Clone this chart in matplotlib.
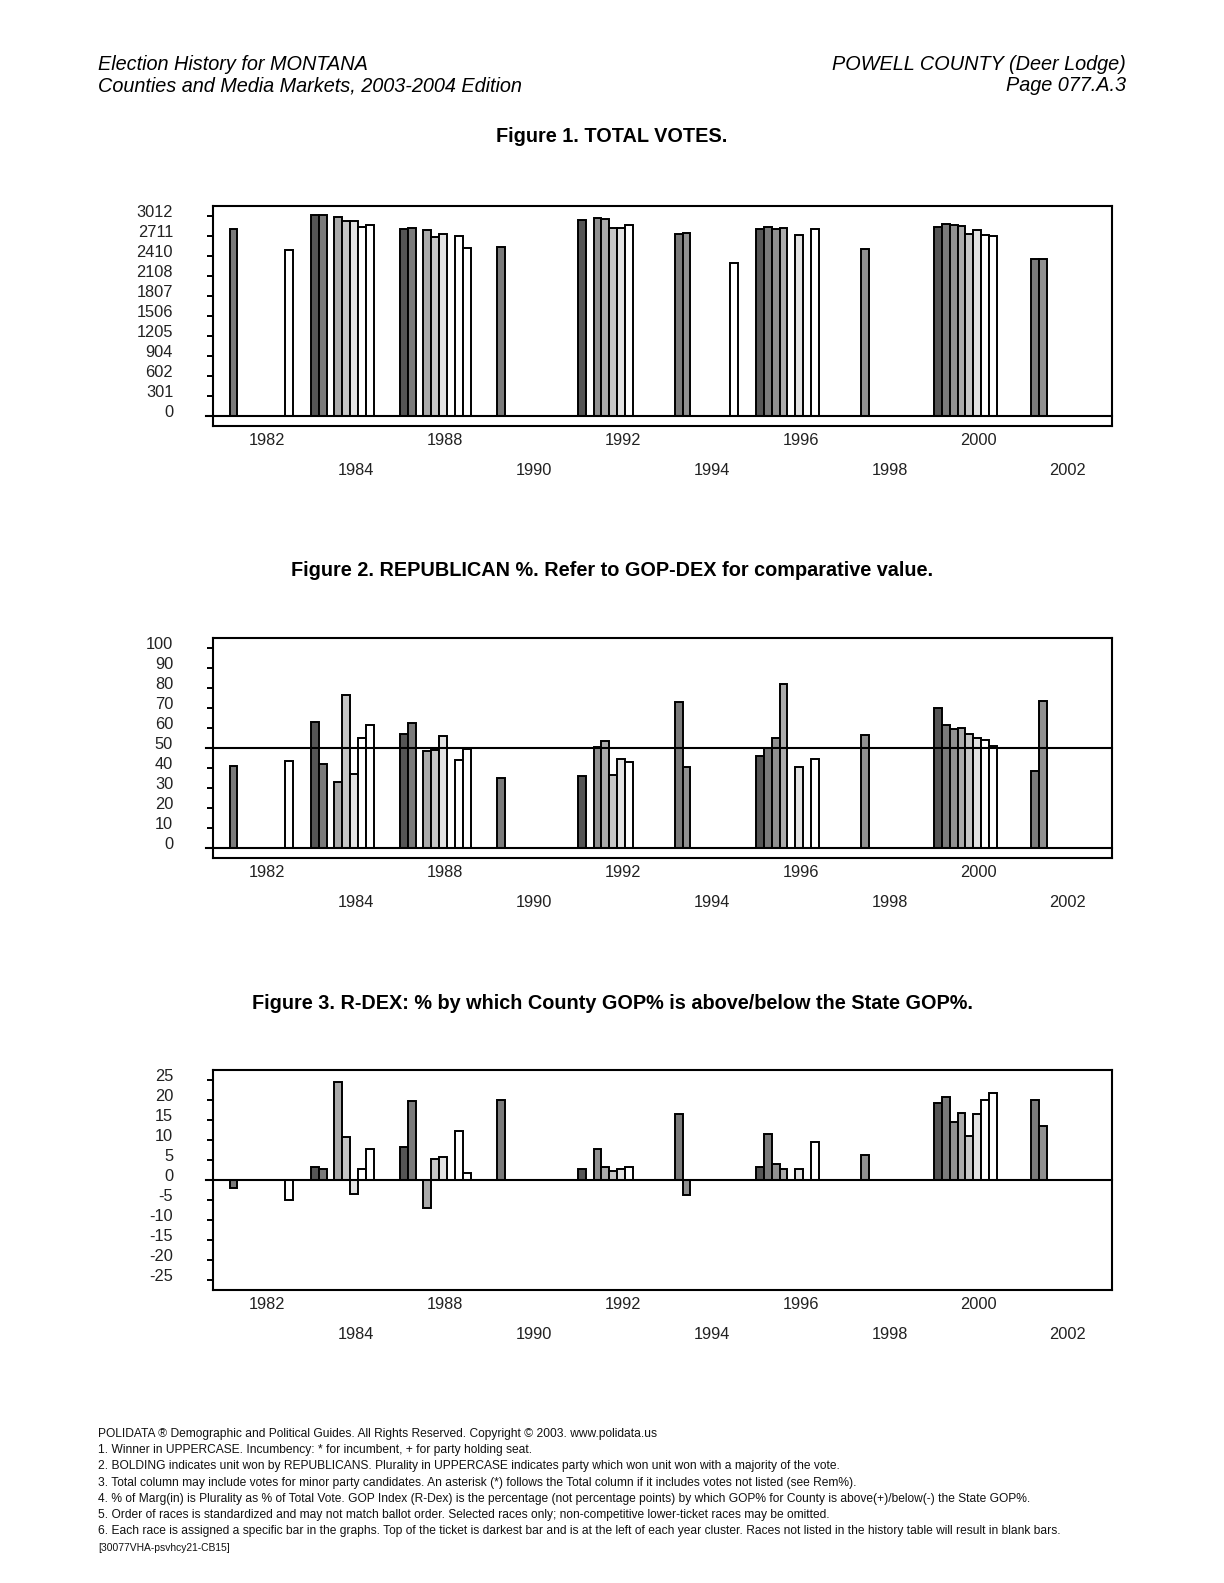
import matplotlib
matplotlib.use("Agg")
import matplotlib.pyplot as plt
from matplotlib import transforms

plt.rcParams['font.family'] = ['Liberation Sans', 'DejaVu Sans']

# election years on the category axis (1986 is not in the source)
years = ['1982', '1984', '1988', '1990', '1992', '1994', '1996', '1998', '2000', '2002']

# one row per race slot (top of ticket first), one column per year, None = no race
total_votes = [
    [None, 3017, 2811, None, 2947, None, 2811, None, 2842, None],
    [2811, 3017, 2820, 2540, None, 2736, 2842, None, 2881, 2353],
    [None, None, None, None, 2977, 2745, 2811, 2510, 2866, 2353],
    [None, 2986, 2790, None, 2962, None, 2820, None, 2851, None],
    [None, 2926, 2685, None, 2831, None, None, None, 2740, None],
    [None, 2926, 2730, None, 2831, None, 2721, None, 2790, None],
    [None, 2836, None, None, 2866, None, None, None, 2715, None],
    [None, 2866, 2700, None, None, None, 2811, None, 2700, None],
    [2489, None, 2525, None, None, 2299, None, None, None, None],
]

gop_pct = [
    [None, 62.7, 56.7, None, 36.1, None, 45.7, None, 69.7, None],
    [41.1, 42.1, 62.2, 35.1, None, 72.7, 49.7, None, 61.4, 38.3],
    [None, None, None, None, 50.5, 40.6, 54.7, 56.4, 59.2, 73.4],
    [None, 33.1, 48.2, None, 53.2, None, 81.8, None, 59.7, None],
    [None, 76.3, 48.7, None, 36.5, None, None, None, 56.7, None],
    [None, 37.1, 55.7, None, 44.6, None, 40.6, None, 54.7, None],
    [None, 54.7, None, None, 42.8, None, None, None, 53.7, None],
    [None, 61.2, 44.1, None, None, None, 44.6, None, 50.7, None],
    [43.6, None, 49.5, None, None, None, None, None, None, None],
]

r_dex = [
    [None, 3.1, 8.1, None, 2.7, None, 3.2, None, 19.2, None],
    [-2.0, 2.7, 19.7, 19.9, None, 16.4, 11.4, None, 20.7, 20.0],
    [None, None, None, None, 7.6, -3.8, 3.9, 6.2, 14.4, 13.5],
    [None, 24.4, -7.0, None, 3.3, None, 2.8, None, 16.6, None],
    [None, 10.6, 5.1, None, 2.1, None, None, None, 11.0, None],
    [None, -3.5, 5.7, None, 2.8, None, 2.6, None, 16.5, None],
    [None, 2.8, None, None, 3.3, None, None, None, 20.0, None],
    [None, 7.6, 12.1, None, None, None, 9.4, None, 21.7, None],
    [-5.0, None, 1.7, None, None, None, None, None, None, None],
]

race_colors = ['#555555', '#7a7a7a', '#909090', '#aaaaaa', '#c6c6c6',
               '#e2e2e2', '#ffffff', '#ffffff', '#ffffff']

votes_ticks = [0, 301.2, 602.4, 903.6, 1204.8, 1506, 1807.2, 2108.4, 2409.6, 2710.8, 3012]
votes_labels = ['0', '301', '602', '904', '1205', '1506', '1807', '2108', '2410', '2711', '3012']
pct_ticks = list(range(0, 101, 10))
dex_ticks = list(range(-25, 26, 5))

W, H = 1224, 1583
fig = plt.figure(figsize=(W / 100, H / 100), dpi=100)

bar_w = 0.0888
ax_left, ax_width = 212.7 / W, 899.6 / W
tick_fs = 11.8


def panel(top_px, data, ticks, labels, lo, hi, ref_lines):
    ax = fig.add_axes([ax_left, 1 - (top_px + 220) / H, ax_width, 220 / H])
    for k, row in enumerate(data):
        for i, v in enumerate(row):
            if v is None:
                continue
            ax.bar(i - 0.505 + k * bar_w, v, width=bar_w, align='edge',
                   color=race_colors[k], edgecolor='black', linewidth=1.4, zorder=2)
    pad = 0.05 * (hi - lo)
    ax.set_ylim(lo - pad, hi + pad)
    ax.set_xlim(-0.606, 9.5)
    for y in ref_lines:
        ax.axhline(y, xmin=-0.008, xmax=1, color='black', lw=1.5, clip_on=False, zorder=3)
    ax.set_yticks(ticks)
    ax.set_yticklabels(labels)
    ax.tick_params(axis='y', direction='out', length=4.5, width=1.4, pad=24,
                   labelsize=tick_fs, labelcolor='#222222')
    shift = transforms.ScaledTranslation(0, 5 / 100, fig.dpi_scale_trans)
    for t in ax.get_yticklabels():
        t.set_transform(t.get_transform() + shift)
    ax.set_xticks([])
    for s in ax.spines.values():
        s.set_linewidth(1.5)
    for i, yr in enumerate(years):
        off = 10.6 if i % 2 == 0 else 32.4
        ax.annotate(yr, xy=(i, 0), xycoords=('data', 'axes fraction'),
                    xytext=(0, -off), textcoords='offset points',
                    ha='center', va='center', fontsize=tick_fs, color='#222222')
    return ax


panel(205.7, total_votes, votes_ticks, votes_labels, 0, 3012, [0])
panel(637.7, gop_pct, pct_ticks, [str(t) for t in pct_ticks], 0, 100, [0, 50])
panel(1069.7, r_dex, dex_ticks, [str(t) for t in dex_ticks], -25, 25, [0])

# page header
head_fs = 14.3
fig.text(98 / W, 1 - 65 / H, 'Election History for MONTANA', style='italic',
         fontsize=head_fs, va='center', ha='left')
fig.text(98 / W, 1 - 85.5 / H, 'Counties and Media Markets, 2003-2004 Edition', style='italic',
         fontsize=head_fs, va='center', ha='left')
fig.text(1126 / W, 1 - 65 / H, 'POWELL COUNTY (Deer Lodge)', style='italic',
         fontsize=head_fs, va='center', ha='right')
fig.text(1126 / W, 1 - 85.5 / H, 'Page 077.A.3', style='italic',
         fontsize=head_fs, va='center', ha='right')

# figure titles
title_fs = 14.3
fig.text(0.5, 1 - 137 / H, 'Figure 1. TOTAL VOTES.', weight='bold', fontsize=title_fs,
         ha='center', va='center')
fig.text(0.5, 1 - 570 / H, 'Figure 2. REPUBLICAN %. Refer to GOP-DEX for comparative value.',
         weight='bold', fontsize=title_fs, ha='center', va='center')
fig.text(0.5, 1 - 1003 / H, 'Figure 3. R-DEX: % by which County GOP% is above/below the State GOP%.',
         weight='bold', fontsize=title_fs, ha='center', va='center')

notes = [
    'POLIDATA \u00ae Demographic and Political Guides. All Rights Reserved. Copyright \u00a9 2003. www.polidata.us',
    '1. Winner in UPPERCASE. Incumbency: * for incumbent, + for party holding seat.',
    '2. BOLDING indicates unit won by REPUBLICANS. Plurality in UPPERCASE indicates party which won unit won with a majority of the vote.',
    '3. Total column may include votes for minor party candidates. An asterisk (*) follows the Total column if it includes votes not listed (see Rem%).',
    '4. % of Marg(in) is Plurality as % of Total Vote. GOP Index (R-Dex) is the percentage (not percentage points) by which GOP% for County is above(+)/below(-) the State GOP%.',
    '5. Order of races is standardized and may not match ballot order. Selected races only; non-competitive lower-ticket races may be omitted.',
    '6. Each race is assigned a specific bar in the graphs. Top of the ticket is darkest bar and is at the left of each year cluster. Races not listed in the history table will result in blank bars.',
]
for j, line in enumerate(notes):
    fig.text(98 / W, 1 - (1434 + j * 16.2) / H, line, fontsize=8.65, va='center', ha='left',
             color='#111111')
fig.text(98 / W, 1 - 1548 / H, '[30077VHA-psvhcy21-CB15]', fontsize=7.4, va='center', ha='left',
         color='#111111')

fig.savefig('out.png', dpi=100)
